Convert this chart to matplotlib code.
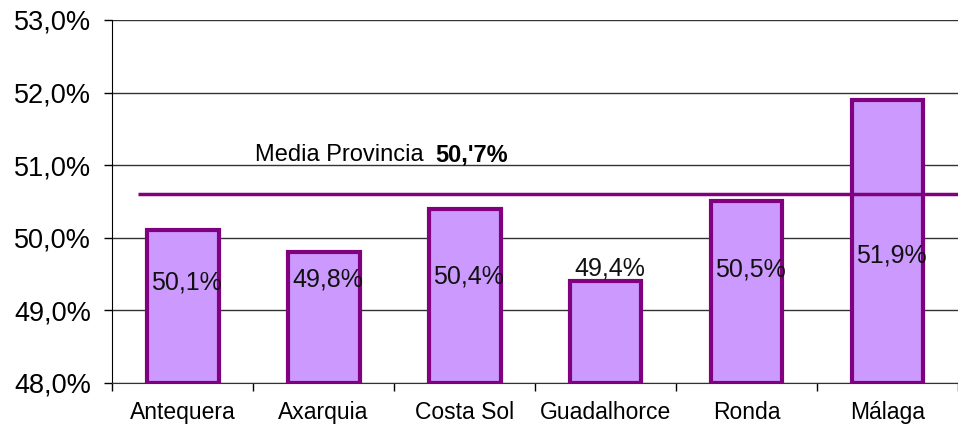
import matplotlib
matplotlib.use('Agg')
import matplotlib.pyplot as plt
from matplotlib.ticker import FuncFormatter, FixedLocator

# Data
comarcas = ["Antequera", "Axarquia", "Costa Sol", "Guadalhorce", "Ronda", "Málaga"]
porcentajes = [50.1, 49.8, 50.4, 49.4, 50.5, 51.9]
media_provincia = 50.6
media_texto = "50,'7%"
# where each value label sits (y in data units)
etiqueta_y = [49.38, 49.42, 49.46, 49.58, 49.56, 49.75]

plt.rcParams['font.family'] = ['Liberation Sans', 'DejaVu Sans']

fig = plt.figure(figsize=(9.58, 4.25), dpi=100)
ax = fig.add_axes([0.117, 0.099, 0.883, 0.854])

x = range(len(comarcas))
ax.bar(x, [p - 48 for p in porcentajes], bottom=48, width=0.51,
       color='#CC99FF', edgecolor='#800080', linewidth=3, zorder=3)

for i, (p, ly) in enumerate(zip(porcentajes, etiqueta_y)):
    ax.text(i + 0.03, ly, f"{p:.1f}%".replace('.', ','), ha='center', va='center',
            fontsize=18, color='#111111', zorder=5)

# Media provincial
ax.plot([-0.315, 5.5], [media_provincia, media_provincia], color='#800080',
        linewidth=2.5, zorder=4, solid_capstyle='butt')
ax.text(0.515, 51.14, "Media Provincia", ha='left', va='center', fontsize=17)
ax.text(1.79, 51.14, media_texto, ha='left', va='center', fontsize=17,
        fontweight='bold')

ax.set_xlim(-0.5, 5.5)
ax.set_ylim(48, 53)
ax.set_yticks([48, 49, 50, 51, 52, 53])
ax.yaxis.set_major_formatter(FuncFormatter(lambda v, _: f"{v:.1f}%".replace('.', ',')))
ax.tick_params(axis='y', labelsize=19.5, length=6, width=1, direction='out', pad=9)

ax.set_xticks(list(x))
ax.set_xticklabels(comarcas, fontsize=16.5)
ax.tick_params(axis='x', which='major', length=0, pad=13)
ax.xaxis.set_minor_locator(FixedLocator([-0.5, 0.5, 1.5, 2.5, 3.5, 4.5, 5.5]))
ax.tick_params(axis='x', which='minor', length=6, width=1, direction='out')

ax.grid(axis='y', color='#333333', linewidth=1, zorder=0)
ax.spines['right'].set_visible(False)
ax.spines['top'].set_visible(False)
ax.spines['left'].set_color('black')
ax.spines['bottom'].set_color('#333333')
ax.set_axisbelow(True)

fig.savefig('out.png', dpi=100)
